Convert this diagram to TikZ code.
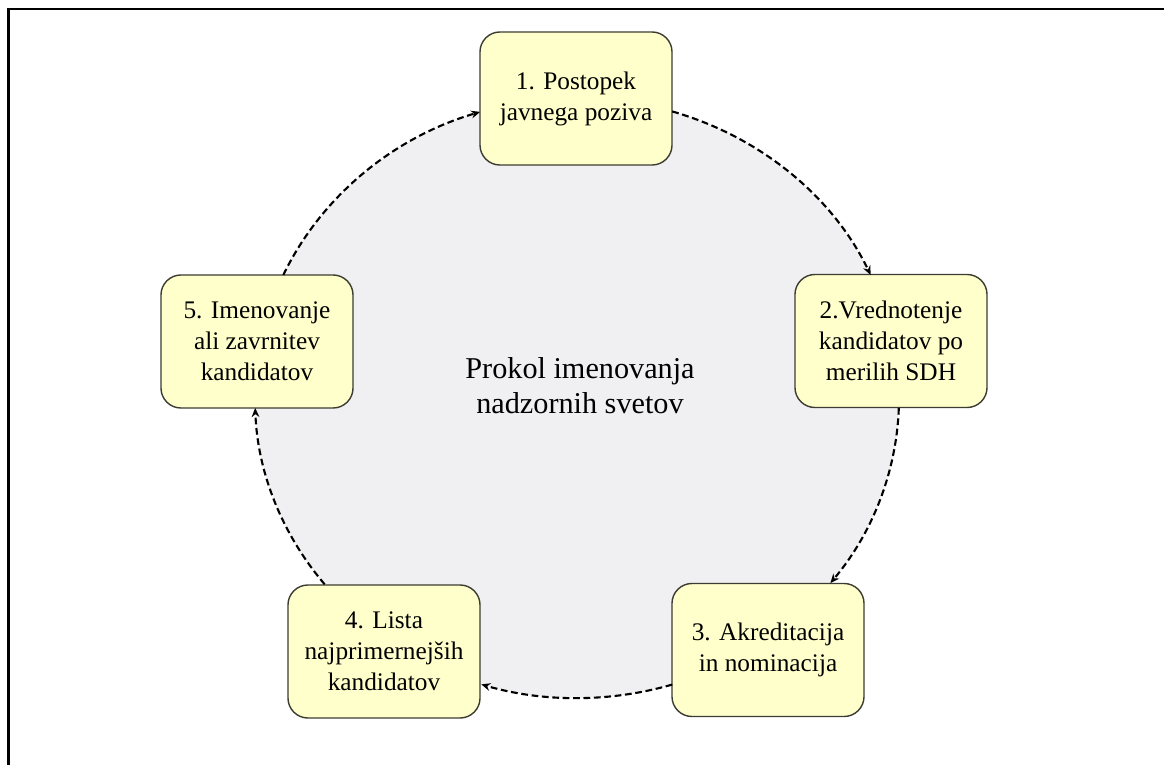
\documentclass[tikz,border=0pt]{standalone}
\usepackage{fontspec}
\setmainfont{Liberation Serif}
\usetikzlibrary{arrows.meta,calc}
\definecolor{ringfill}{RGB}{240,240,242}
\definecolor{stepfill}{RGB}{255,255,204}
\definecolor{stepline}{RGB}{60,60,50}
\begin{document}
\begin{tikzpicture}[x=0.025cm,y=0.025cm,
  stepbox/.style={draw=stepline, line width=1pt, fill=stepfill,
    rounded corners=0.5cm, minimum width=4.8cm, minimum height=3.325cm,
    align=center, inner sep=0pt, font=\rmfamily\fontsize{18}{22}\selectfont},
  conn/.style={line width=1.5pt, dash pattern=on 4.8pt off 2.6pt,
    -{Stealth[length=6.5pt,width=5.5pt]}},
]
\useasboundingbox (0,0) rectangle (1164,765);
% outer frame (left and top edges)
\draw[line width=2pt] (8.5,0) -- (8.5,756) -- (1164,756);

% grey disc behind the cycle
\coordinate (E) at (577,367);
\fill[ringfill] (E) ellipse[x radius=322, y radius=300];

\node[font=\rmfamily\fontsize{21.5}{25}\selectfont, align=center] (title) at (580,379)
  {Prokol imenovanja\\nadzornih svetov};

% the five steps
\node[stepbox] (s1) at (576,666.5) {1. Postopek\\javnega poziva};
\node[stepbox] (s2) at (891,424) {2.Vrednotenje\\kandidatov po\\merilih SDH};
\node[stepbox] (s3) at (768,115) {3. Akreditacija\\in nominacija};
\node[stepbox] (s4) at (384,113.5) {4. Lista\\najprimernejših\\kandidatov};
\node[stepbox] (s5) at (257,423.5) {5. Imenovanje\\ali zavrnitev\\kandidatov};

% start points of the arcs on the box edges
\coordinate (c1) at ($(E)+(72.8:322 and 300)$);
\coordinate (c2) at ($(E)+(-1.9:322 and 300)$);
\coordinate (c3) at ($(E)+(-72.8:322 and 300)$);
\coordinate (c4) at ($(E)+(-141.6:322 and 300)$);
\coordinate (c5) at ($(E)+(155.8:322 and 300)$);

% clockwise dashed arcs between the steps
\draw[conn] (c1) arc[start angle=72.8, end angle=24.2, x radius=322, y radius=300];
\draw[conn] (c2) arc[start angle=-1.9, end angle=-38.1, x radius=322, y radius=300];
\draw[conn] (c3) arc[start angle=-72.8, end angle=-107.3, x radius=322, y radius=300];
\draw[conn] (c4) arc[start angle=-141.6, end angle=-178.1, x radius=322, y radius=300];
\draw[conn] (c5) arc[start angle=155.8, end angle=107.5, x radius=322, y radius=300];
\end{tikzpicture}
\end{document}
